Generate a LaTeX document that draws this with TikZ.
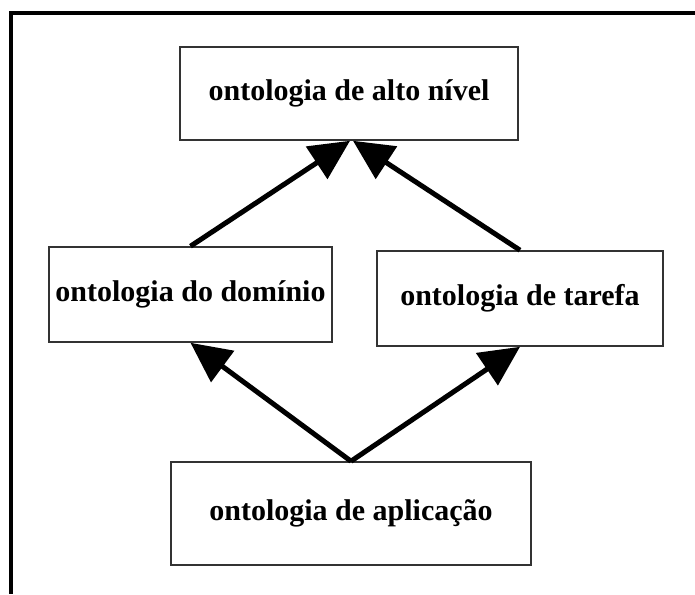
\documentclass[tikz,border=0pt]{standalone}
\usepackage{fontspec}
\setmainfont{Liberation Serif}
\usetikzlibrary{arrows.meta}

\begin{document}
\begin{tikzpicture}[x=1pt,y=-1pt,
  onto/.style={draw=black!80,line width=1.6pt,inner sep=0pt,
    font=\fontsize{30}{34}\selectfont\bfseries},
  seta/.style={line width=5pt,-{Triangle[length=40pt,width=38pt]}}]
  \useasboundingbox (0,0) rectangle (695,594);
  \draw[line width=4pt] (695,13) -| (11,594);
  \node (alto) at (349,93.5)  [onto,minimum width=338pt,minimum height=93pt] {ontologia de alto nível};
  \node (dom) at (190.5,294.5) [onto,minimum width=283pt,minimum height=95pt] {ontologia do domínio};
  \node (tar) at (520,298.5)  [onto,minimum width=286pt,minimum height=95pt] {ontologia de tarefa};
  \node (apl) at (351,513.5)  [onto,minimum width=360pt,minimum height=103pt] {ontologia de aplicação};
  \draw[seta] (dom.north) to ([xshift=1pt]alto.south);
  \draw[seta] (tar.north) to ([xshift=4pt]alto.south);
  \draw[seta] (apl.north) to (dom.south);
  \draw[seta] (apl.north) to (tar.south);
\end{tikzpicture}
\end{document}
